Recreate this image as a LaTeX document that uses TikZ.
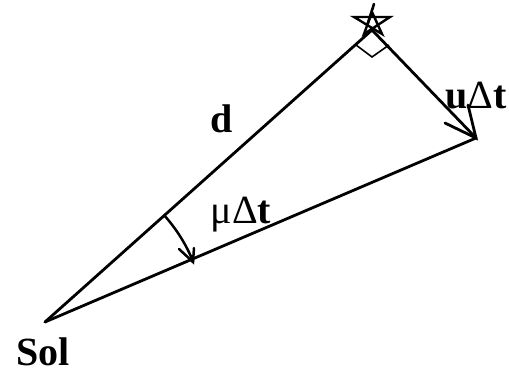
\documentclass[tikz,border=0pt]{standalone}
\usepackage{fontspec}
\setmainfont{Liberation Serif}
\begin{document}
\begin{tikzpicture}[x=1pt,y=1pt,line width=2.8pt,line cap=round,
  lbl/.style={inner sep=0pt,font=\fontsize{40}{44}\selectfont\bfseries},
  thin/.style={line width=1.6pt,line join=miter,line cap=butt}]
\useasboundingbox (0,0) rectangle (509,373);
\coordinate (sol) at (45,51);
\coordinate (V) at (372,343);
\coordinate (T) at (476,235);
\coordinate (b1) at (445,250);
\coordinate (b2) at (468,268);
\coordinate (q1) at (356,328);
\coordinate (q2) at (372,316);
\coordinate (q3) at (389,328);
\coordinate (st) at (372,361);
\coordinate (sl) at (354,356);
\coordinate (sr) at (390,356);
\coordinate (sbl) at (364,339);
\coordinate (sbr) at (382,339);
\coordinate (k1) at (374,369);
\coordinate (k2) at (367,347);
\coordinate (at) at (193,111);
\coordinate (a1) at (179,124);
\coordinate (a2) at (194,125);
% main lines
\draw (sol) -- (V);
\draw (V) -- (T);
\draw (sol) -- (T);
% arrowhead of u delta t
\draw (b1) -- (T) -- (b2);
% right angle mark
\draw[thin] (q1) -- (q2) -- (q3);
% star
\draw[line width=2.4pt,line join=miter,line cap=butt] (st) -- (sbl) -- (sr) -- (sl) -- (sbr) -- cycle;
\draw[line width=2.6pt] (k1) -- (k2);
% angle arc with arrowhead
\draw[line width=2.5pt] ([shift={(41.8:160)}]sol) arc[start angle=41.8,end angle=22.2,radius=160];
\draw[line width=2.5pt] (a1) -- (at) -- (a2);
% labels
\node[lbl] (d) at (222,254) {d};
\node[lbl] (u) at (476,277) {u{\mdseries Δ}t};
\node[lbl] (m) at (241,158) {{\mdseries μΔ}t};
\node[lbl] (s) at (43,21) {Sol};
\end{tikzpicture}
\end{document}
